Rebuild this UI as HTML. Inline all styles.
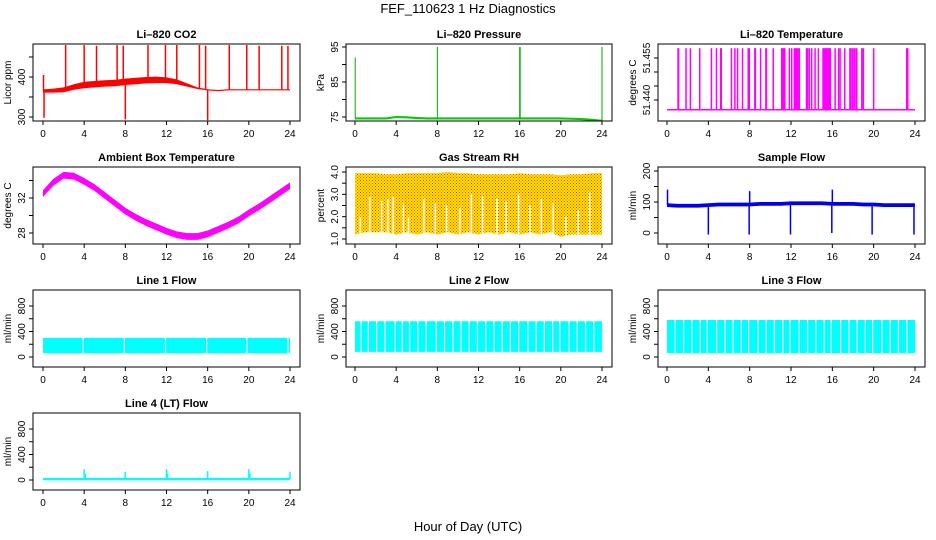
<!DOCTYPE html>
<html><head><meta charset="utf-8"><style>
body{margin:0;background:#fff;}
svg{display:block;font-family:"Liberation Sans",Arial,sans-serif;}
</style></head><body>
<svg id="c" width="936" height="540" viewBox="0 0 936 540" xmlns="http://www.w3.org/2000/svg">
<defs>
<pattern id="rh" width="3" height="3" patternUnits="userSpaceOnUse"><rect width="3" height="3" fill="#ffee00"/><rect x="0" y="0" width="1" height="1" fill="#ff3000"/><rect x="1.5" y="1.5" width="1" height="1" fill="#ff3000"/></pattern>
</defs>
<text x="468" y="13" text-anchor="middle" font-size="13">FEF_110623  1 Hz Diagnostics</text>
<text x="468" y="531" text-anchor="middle" font-size="13">Hour of Day (UTC)</text>
</svg>
<script>
const hours=[0,1,2,3,4,5,6,7,8,9,10,11,12,13,14,15,16,17,18,19,20,21,22,23,24];
const xTicks=[0,4,8,12,16,20,24];
// CO2
const co2Base=[365,366,368,375,380,382,384,385,388,390,392,393,392,388,380,372,368,366,368,368,368,368,368,368,368];
const co2Spread=[4,5,6,7,8,8,8,8,8,8,8,8,7,6,4,2,1.5,1.5,1.5,1.5,1.5,1.5,1.5,1.5,1.5];
const co2SpikeT=[0.05,2.2,4.0,5.2,7.2,7.8,10.2,11.9,13.0,15.2,15.8,18.1,19.8,21.0,23.2,23.8,0.1,8.0,16.0];
const co2SpikeV=[405,480,480,478,480,478,480,480,480,480,478,480,480,478,478,478,298,294,292];
// Pressure
const presBase=[74.6,74.6,74.6,74.6,75.0,74.9,74.7,74.6,74.6,74.6,74.6,74.6,74.6,74.6,74.6,74.6,74.6,74.6,74.6,74.6,74.6,74.5,74.4,74.2,73.9];
const presSpikeT=[0.02,8.0,16.0,16.05,24.0];
const presSpikeV=[92,95,95,95,95];
// Li-820 temperature
const tempSpikeT=[1.07,1.12,1.84,2.26,3.17,4.3,4.79,5.2,5.25,6.24,6.57,6.83,7.31,7.86,7.96,8.5,8.55,9.06,9.57,9.62,10.28,11.1,11.2,11.3,11.4,11.84,12.07,12.33,12.45,12.55,12.65,12.8,13.5,13.6,13.77,14.0,14.33,14.65,15.1,15.2,15.3,15.4,15.5,15.6,15.7,15.8,16.27,16.6,16.75,17.2,17.7,17.8,17.95,18.1,18.2,18.36,18.85,19.0,20.0,23.2,23.3];
const tempBase=51.4365, tempHigh=51.4585;
// Ambient box
const ambMid=[32.5,33.8,34.6,34.5,33.9,33.2,32.3,31.4,30.5,29.8,29.2,28.7,28.2,27.8,27.6,27.6,27.9,28.4,28.9,29.5,30.3,31.0,31.8,32.6,33.4];
const ambSpread=0.38;
// RH
const rhUpper=[3.95,3.95,3.95,3.9,3.9,3.95,3.95,3.95,3.95,4.0,3.95,3.95,3.9,3.9,3.9,3.9,3.95,3.9,3.9,3.9,3.85,3.9,3.9,3.95,3.95];
const rhLower=[1.2,1.3,1.3,1.3,1.2,1.3,1.2,1.3,1.2,1.3,1.2,1.3,1.2,1.3,1.2,1.3,1.2,1.3,1.2,1.3,1.1,1.2,1.2,1.2,1.2];
const rhGapT=[0.5,1.45,2.6,3.2,3.7,4.7,5.2,6.7,7.8,8.9,10.2,11.3,12.4,13.8,14.7,15.9,17.0,18.1,19.25,20.5,21.7,22.8];
const rhGapV=[2.0,2.9,2.7,2.8,2.9,2.6,2.0,2.8,2.6,2.5,2.4,3.0,2.9,2.8,2.7,3.0,2.5,2.8,2.6,2.0,2.3,3.1];
// Sample flow
const sfBase=[90,88,88,88,90,92,92,92,92,94,94,94,96,96,96,96,94,94,94,92,92,90,90,90,90];
const sfSpikeT=[0.05,4.0,7.95,8.0,11.95,15.95,16.0,19.85,23.9];
const sfSpikeV=[140,-5,-5,135,-5,0,140,-5,-5];
// Line flows
const l1Lo=60,l1Hi=300;
const l1GapT=[3.9,7.9,11.9,15.9,19.8,23.8];
const l2Lo=80,l2Hi=560;
const l2GapT=[0.6,1.3,2.1,2.9,3.9,4.6,5.3,6.1,6.9,7.9,8.7,9.5,10.3,11.1,11.9,12.7,13.5,14.3,15.1,15.9,16.8,17.6,18.4,19.2,19.9,20.8,21.6,22.4,23.2];
const l3Lo=60,l3Hi=580;
const l3GapT=[0.8,1.6,2.4,3.2,3.9,4.8,5.6,6.4,7.2,7.9,8.8,9.6,10.4,11.2,11.9,12.8,13.6,14.4,15.2,15.9,16.8,17.6,18.4,19.2,19.9,20.8,21.6,22.4,23.2];
const l4Base=15;
const l4SpikeT=[4.0,4.1,8.0,12.0,12.1,16.0,20.0,20.1,24.0];
const l4SpikeV=[170,100,130,170,100,140,170,100,130];

const NS="http://www.w3.org/2000/svg";
const svg=document.getElementById('c');
function el(tag,attrs,parent){const e=document.createElementNS(NS,tag);for(const k in attrs)e.setAttribute(k,attrs[k]);(parent||svg).appendChild(e);return e;}

const colL=[33,346,658], colR=[300,612,925], x0s=[43,355,667], x24s=[290,602,915];
const rowT=[44,167,290,413], H=77;

function panel(name,col,row,title,ylab,v1,y1,v2,y2,yticks,ylabels){
  const g=el('g',{});
  
  
  const L=colL[col],R=colR[col],T=rowT[row],B=T+H;
  const xs=h=>x0s[col]+h/24*(x24s[col]-x0s[col]);
  const ys=v=>y1+(v-v1)*(y2-y1)/(v2-v1);
  const clip='clip'+name;
  const cp=el('clipPath',{id:clip},g);el('rect',{x:L,y:T,width:R-L,height:H},cp);
  const plot=el('g',{'clip-path':'url(#'+clip+')'},g);
  
  
  const t=el('text',{x:(L+R)/2,y:T-6,'text-anchor':'middle','font-size':'11','font-weight':'bold'},g);t.textContent=title;
  
  
  el('rect',{x:L,y:T,width:R-L,height:H,fill:'none',stroke:'#000','stroke-width':1},g);
  xTicks.forEach(h=>{const x=xs(h);el('line',{x1:x,x2:x,y1:B,y2:B+4,stroke:'#000'},g);
    const tx=el('text',{x:x,y:B+16,'text-anchor':'middle','font-size':'10'},g);tx.textContent=h;
    
    });
  el('line',{x1:xs(0),x2:xs(24),y1:B,y2:B,stroke:'#000'},g);
  yticks.forEach((v,i)=>{const y=ys(v);el('line',{x1:L-4,x2:L,y1:y,y2:y,stroke:'#000'},g);
    if(ylabels[i]!==''){const tx=el('text',{x:L-8,y:y,'text-anchor':'middle','font-size':'10',transform:`rotate(-90 ${L-8} ${y})`},g);tx.textContent=ylabels[i];
    
    }});
  el('line',{x1:L,x2:L,y1:ys(yticks[0]),y2:ys(yticks[yticks.length-1]),stroke:'#000'},g);
  const yl=el('text',{x:L-22,y:T+H/2,'text-anchor':'middle','font-size':'10',transform:`rotate(-90 ${L-22} ${T+H/2})`},g);yl.textContent=ylab;
  
  
  return {plot,xs,ys};
}
function band(p,up,lo,fill,name){
  let pts=hours.map((h,i)=>p.xs(h)+','+p.ys(up[i]));
  pts=pts.concat(hours.slice().reverse().map((h,j)=>{const i=hours.length-1-j;return p.xs(h)+','+p.ys(lo[i]);}));
  const e=el('polygon',{points:pts.join(' '),fill:fill},p.plot);
  
  
  return e;
}
function vline(p,t,a,b,col,w,name){
  const e=el('line',{x1:p.xs(t),x2:p.xs(t),y1:p.ys(a),y2:p.ys(b),stroke:col,'stroke-width':w},p.plot);
  
  
}

// CO2
let p=panel('co2-panel',0,0,'Li\u2013820 CO2','Licor ppm',300,117,400,77,[300,350,400,450],['300','','400','']);
band(p,co2Base.map((v,i)=>v+co2Spread[i]),co2Base.map((v,i)=>v-co2Spread[i]),'#ff0000','co2-band');
co2SpikeT.forEach((t,i)=>{const bi=Math.round(t);vline(p,t,co2Base[bi],co2SpikeV[i],'#ff0000',1.5,'co2-spike');});
// Pressure
p=panel('pressure-panel',1,0,'Li\u2013820 Pressure','kPa',75,117,95,47,[75,80,85,90,95],['75','','85','','95']);
band(p,presBase.map(v=>v+0.3),presBase.map(v=>v-0.3),'#00cc00','pressure-line');
presSpikeT.forEach((t,i)=>vline(p,t,presBase[Math.round(t)],presSpikeV[i],'#00aa00',1,'pressure-spike'));
// Li-820 temperature
p=panel('li820-temp-panel',2,0,'Li\u2013820 Temperature','degrees C',51.440,100,51.455,58,[51.440,51.445,51.450,51.455],['51.440','','','51.455']);
el('line',{x1:p.xs(0),x2:p.xs(24),y1:p.ys(tempBase),y2:p.ys(tempBase),stroke:'#ff00ff','stroke-width':1.5},p.plot);
tempSpikeT.forEach(t=>vline(p,t,tempBase,tempHigh,'#ff00ff',1.5,'temp-spike'));
// Ambient
p=panel('ambient-temp-panel',0,1,'Ambient Box Temperature','degrees C',28,233,32,198,[28,30,32,34],['28','','32','']);
band(p,ambMid.map(v=>v+ambSpread),ambMid.map(v=>v-ambSpread),'#ff00ff','ambient-band');
// RH
p=panel('rh-panel',1,1,'Gas Stream RH','percent',1.0,239,4.0,172,[1,1.5,2,2.5,3,3.5,4],['1.0','','2.0','','3.0','','4.0']);
band(p,rhUpper,rhLower,'url(#rh)','rh-band');
rhGapT.forEach((t,i)=>vline(p,t,0.9,rhGapV[i],'#ffffff',1.5,'rh-gap'));
// Sample flow
p=panel('sample-flow-panel',2,1,'Sample Flow','ml/min',0,233,100,202,[0,50,100,150,200],['0','','100','','200']);
band(p,sfBase.map(v=>v+6),sfBase.map(v=>v-6),'#0000ee','sample-flow-band');
sfSpikeT.forEach((t,i)=>vline(p,t,sfBase[Math.round(t)],sfSpikeV[i],'#0000ee',1.5,'sample-flow-spike'));
// Line flows
const fT=[0,200,400,600,800],fL=['0','','400','','800'];
function flow(name,col,row,title,lo,hi,gaps){
  const q=panel(name,col,row,title,'ml/min',0,rowT[row]+67,800,rowT[row]+16,fT,fL);
  band(q,hours.map(()=>hi),hours.map(()=>lo),'#00ffff',name+'-band');
  gaps.forEach(t=>vline(q,t,lo-5,hi+5,'#ffffff',1.2,name+'-gap'));
  return q;
}
flow('line1-flow-panel',0,2,'Line 1 Flow',l1Lo,l1Hi,l1GapT);
flow('line2-flow-panel',1,2,'Line 2 Flow',l2Lo,l2Hi,l2GapT);
flow('line3-flow-panel',2,2,'Line 3 Flow',l3Lo,l3Hi,l3GapT);
p=panel('line4-flow-panel',0,3,'Line 4 (LT) Flow','ml/min',0,rowT[3]+67,800,rowT[3]+16,fT,fL);
band(p,hours.map(()=>l4Base+18),hours.map(()=>l4Base-18),'#00ffff','line4-band');
l4SpikeT.forEach((t,i)=>vline(p,t,l4Base,l4SpikeV[i],'#00ffff',1.5,'line4-spike'));
</script>
</body></html>
